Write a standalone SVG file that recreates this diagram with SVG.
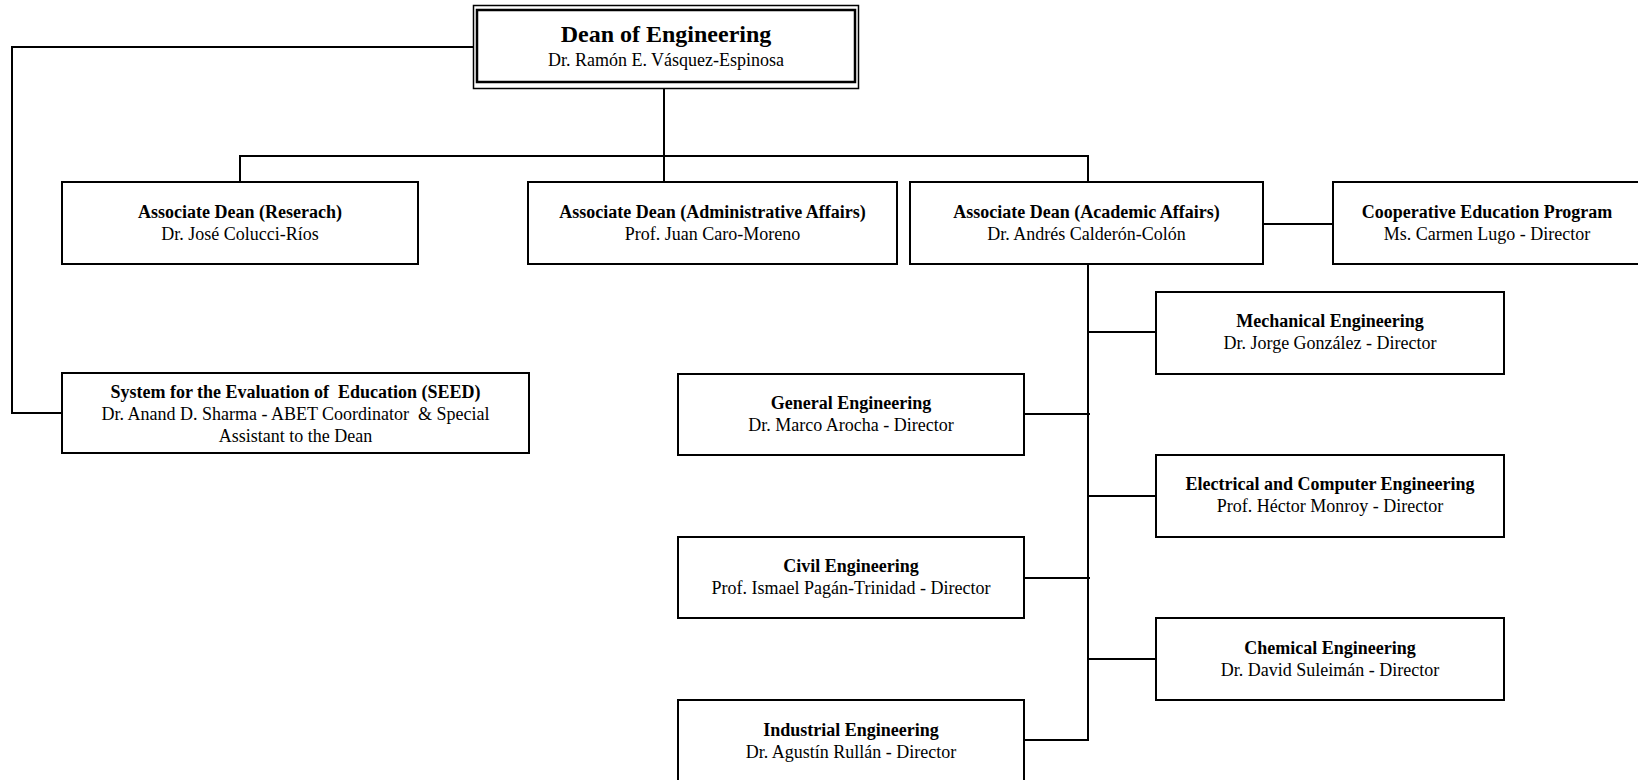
<svg xmlns="http://www.w3.org/2000/svg" width="1638" height="780" viewBox="0 0 1638 780">
<style>
  .box { fill: #fff; stroke: #000; stroke-width: 2; }
  .t { font-family: "Liberation Serif", "Times New Roman", serif; font-size: 18px; font-weight: bold; fill: #000; text-anchor: middle; }
  .n { font-family: "Liberation Serif", "Times New Roman", serif; font-size: 18px; fill: #000; text-anchor: middle; }
  .conn { fill: none; stroke: #000; stroke-width: 2; }
</style>
<rect width="1638" height="780" fill="#fff"/>
<g id="connectors">
  <polyline class="conn" points="474,47 12,47 12,413 62,413"/>
  <line class="conn" x1="664" y1="88" x2="664" y2="182"/>
  <polyline class="conn" points="240,182 240,156 1088,156 1088,182"/>
  <line class="conn" x1="1263" y1="224" x2="1333" y2="224"/>
  <line class="conn" x1="1088" y1="264" x2="1088" y2="741"/>
  <line class="conn" x1="1088" y1="332" x2="1156" y2="332"/>
  <line class="conn" x1="1024" y1="414" x2="1090" y2="414"/>
  <line class="conn" x1="1088" y1="496" x2="1156" y2="496"/>
  <line class="conn" x1="1024" y1="578" x2="1090" y2="578"/>
  <line class="conn" x1="1088" y1="659" x2="1156" y2="659"/>
  <polyline class="conn" points="1024,740 1088,740"/>
</g>
<g id="dean">
  <rect x="473.5" y="5.5" width="385" height="83" fill="#fff" stroke="#000" stroke-width="1.5"/>
  <rect x="477" y="10" width="378" height="72" fill="none" stroke="#000" stroke-width="2.5"/>
  <text x="666" y="42" class="t" style="font-size:24px">Dean of Engineering</text>
  <text x="666" y="66" class="n">Dr. Ramón E. Vásquez-Espinosa</text>
</g>
<g id="research">
  <rect class="box" x="62" y="182" width="356" height="82"/>
  <text x="240" y="218" class="t">Associate Dean (Reserach)</text>
  <text x="240" y="240" class="n">Dr. José Colucci-Ríos</text>
</g>
<g id="admin">
  <rect class="box" x="528" y="182" width="369" height="82"/>
  <text x="712.5" y="218" class="t">Associate Dean (Administrative Affairs)</text>
  <text x="712.5" y="240" class="n">Prof. Juan Caro-Moreno</text>
</g>
<g id="academic">
  <rect class="box" x="910" y="182" width="353" height="82"/>
  <text x="1086.5" y="218" class="t">Associate Dean (Academic Affairs)</text>
  <text x="1086.5" y="240" class="n">Dr. Andrés Calderón-Colón</text>
</g>
<g id="coop">
  <rect class="box" x="1333" y="182" width="308" height="82"/>
  <text x="1487" y="218" class="t">Cooperative Education Program</text>
  <text x="1487" y="240" class="n">Ms. Carmen Lugo - Director</text>
</g>
<g id="seed">
  <rect class="box" x="62" y="373" width="467" height="80"/>
  <text x="295.5" y="398" class="t" xml:space="preserve">System for the Evaluation of  Education (SEED)</text>
  <text x="295.5" y="420" class="n" xml:space="preserve">Dr. Anand D. Sharma - ABET Coordinator  &amp; Special</text>
  <text x="295.5" y="442" class="n">Assistant to the Dean</text>
</g>
<g id="mechanical">
  <rect class="box" x="1156" y="292" width="348" height="82"/>
  <text x="1330" y="327" class="t">Mechanical Engineering</text>
  <text x="1330" y="349" class="n">Dr. Jorge González - Director</text>
</g>
<g id="general">
  <rect class="box" x="678" y="374" width="346" height="81"/>
  <text x="851" y="409" class="t">General Engineering</text>
  <text x="851" y="431" class="n">Dr. Marco Arocha - Director</text>
</g>
<g id="electrical">
  <rect class="box" x="1156" y="455" width="348" height="82"/>
  <text x="1330" y="490" class="t">Electrical and Computer Engineering</text>
  <text x="1330" y="512" class="n">Prof. Héctor Monroy - Director</text>
</g>
<g id="civil">
  <rect class="box" x="678" y="537" width="346" height="81"/>
  <text x="851" y="572" class="t">Civil Engineering</text>
  <text x="851" y="594" class="n">Prof. Ismael Pagán-Trinidad - Director</text>
</g>
<g id="chemical">
  <rect class="box" x="1156" y="618" width="348" height="82"/>
  <text x="1330" y="654" class="t">Chemical Engineering</text>
  <text x="1330" y="676" class="n">Dr. David Suleimán - Director</text>
</g>
<g id="industrial">
  <rect class="box" x="678" y="700" width="346" height="90"/>
  <text x="851" y="736" class="t">Industrial Engineering</text>
  <text x="851" y="758" class="n">Dr. Agustín Rullán - Director</text>
</g>
</svg>
